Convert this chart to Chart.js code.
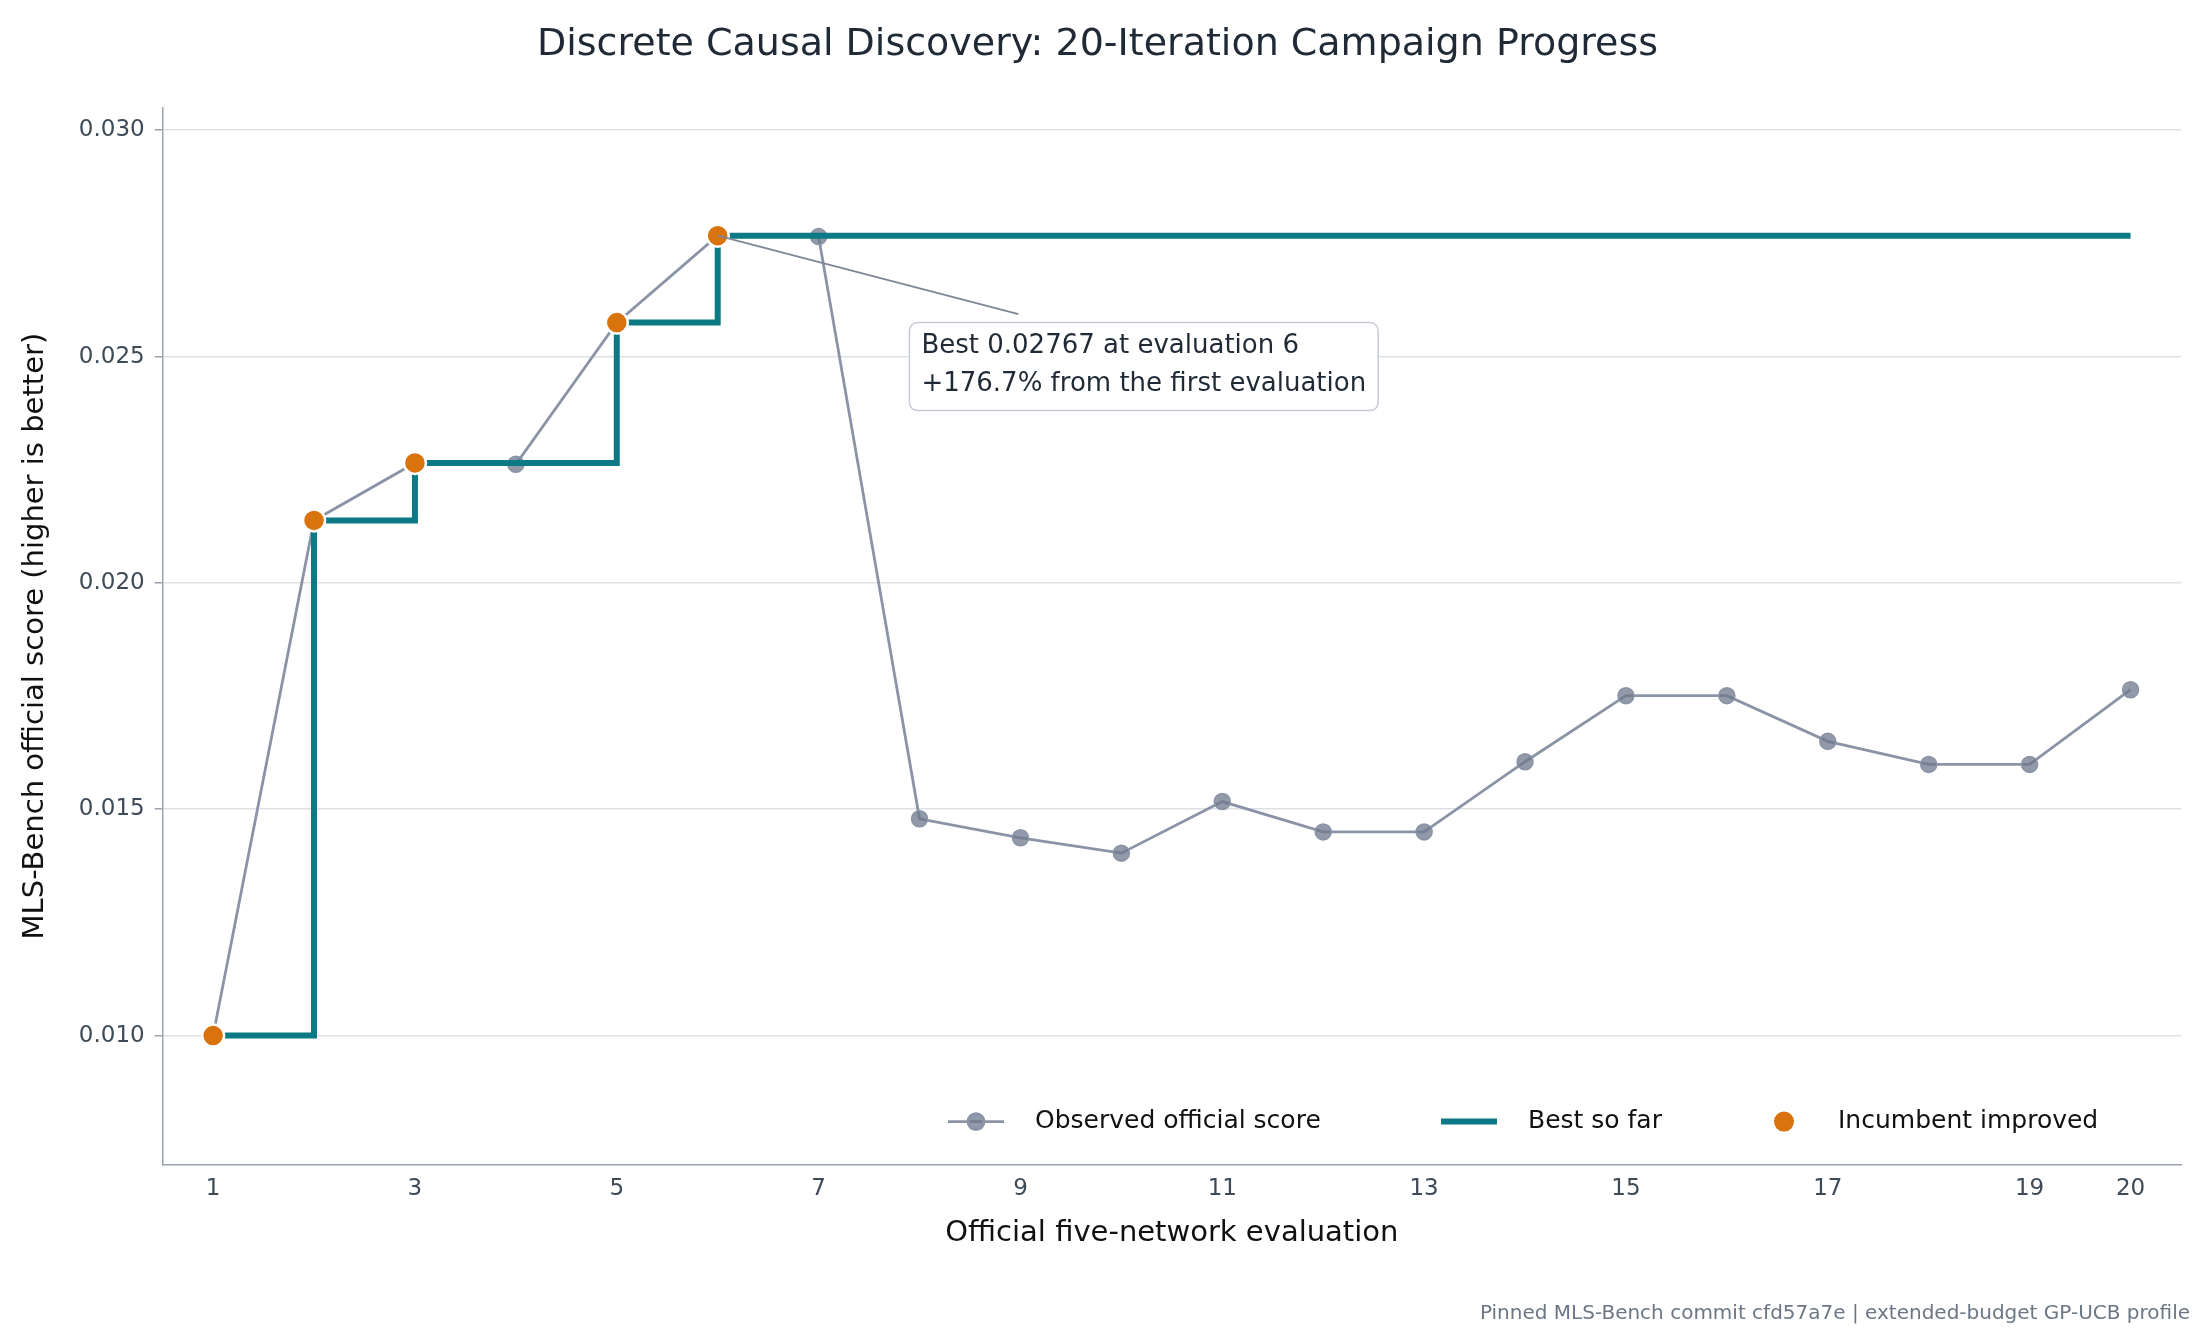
<!DOCTYPE html>
<html><head><meta charset="utf-8">
<script src="https://cdn.jsdelivr.net/npm/chart.js@4"></script>
<style>html,body{margin:0;padding:0;background:#fff}#w{width:2195px;height:1341px;position:relative}</style>
</head><body><div id="w"><canvas id="c"></canvas></div>
<script>
const evaluations = [1,2,3,4,5,6,7,8,9,10,11,12,13,14,15,16,17,18,19,20];
const observedScores = [0.0100,0.02138,0.02265,0.02262,0.02575,0.02767,0.02765,0.01479,0.01437,0.01403,0.01517,0.0145,0.0145,0.01605,0.01751,0.01751,0.0165,0.01599,0.01599,0.01764];
const xTickValues = [1,3,5,7,9,11,13,15,17,19,20];
const yTickValues = [0.010,0.015,0.020,0.025,0.030];
const annotationLines = ["Best 0.02767 at evaluation 6","+176.7% from the first evaluation"];

const bestSoFar = []; let b=-Infinity;
const incumbent = [];
observedScores.forEach((v,i)=>{ if(v>b){b=v; incumbent.push({x:evaluations[i],y:v});} bestSoFar.push({x:evaluations[i],y:b}); });
const observed = observedScores.map((v,i)=>({x:evaluations[i],y:v}));
const FONT = "'DejaVu Sans', sans-serif";

const extras = {
  id:'extras',
  afterDatasetsDraw(chart){
    const ctx=chart.ctx, xs=chart.scales.x, ys=chart.scales.y;
    const bi = observedScores.indexOf(Math.max(...observedScores));
    const px=xs.getPixelForValue(evaluations[bi]), py=ys.getPixelForValue(observedScores[bi]);
    const ex=xs.getPixelForValue(8.98), ey=ys.getPixelForValue(0.02594);
    ctx.save();
    ctx.strokeStyle='#7d8796'; ctx.lineWidth=1.8;
    ctx.beginPath(); ctx.moveTo(px,py); ctx.lineTo(ex,ey); ctx.stroke();
    const bx=xs.getPixelForValue(7.9), by=ys.getPixelForValue(0.02575);
    ctx.font='26px '+FONT;
    const w=Math.max(...annotationLines.map(t=>ctx.measureText(t).width))+24, h=88;
    ctx.beginPath(); ctx.roundRect(bx,by,w,h,8); ctx.fillStyle='#fff'; ctx.fill();
    ctx.strokeStyle='#c5cbd3'; ctx.lineWidth=1.5; ctx.stroke();
    ctx.fillStyle='#1f2a36'; ctx.textBaseline='middle';
    annotationLines.forEach((t,i)=>ctx.fillText(t,bx+12,by+24+i*38));
    const ly=ys.getPixelForValue(0.0081);
    ctx.font='25px '+FONT;
    let x0=948;
    ctx.strokeStyle='#8a94a6'; ctx.lineWidth=2.8; ctx.beginPath(); ctx.moveTo(x0,ly); ctx.lineTo(x0+56,ly); ctx.stroke();
    ctx.beginPath(); ctx.arc(x0+28,ly,8,0,7); ctx.fillStyle='rgba(110,120,140,0.75)'; ctx.fill(); ctx.strokeStyle='#8a94a6';ctx.stroke();
    ctx.fillStyle='#111'; ctx.fillText('Observed official score',x0+87,ly);
    x0=1441;
    ctx.strokeStyle='#0b7a84'; ctx.lineWidth=6; ctx.beginPath(); ctx.moveTo(x0,ly); ctx.lineTo(x0+56,ly); ctx.stroke();
    ctx.fillText('Best so far',x0+87,ly);
    x0=1756;
    ctx.beginPath(); ctx.arc(x0+28,ly,10,0,7); ctx.fillStyle='#d9730d'; ctx.fill();
    ctx.fillStyle='#111'; ctx.fillText('Incumbent improved',x0+82,ly);
    ctx.font='20px '+FONT; ctx.fillStyle='#6b7785'; ctx.textAlign='right';
    ctx.fillText('Pinned MLS-Bench commit cfd57a7e | extended-budget GP-UCB profile',2190,1314);
    ctx.restore();
  }
};

new Chart(document.getElementById('c'),{
  type:'line',
  data:{datasets:[
    {label:'Observed official score',data:observed,borderColor:'#8a94a6',borderWidth:2.8,pointRadius:8,pointBackgroundColor:'rgba(110,120,140,0.75)',pointBorderColor:'#8a94a6',pointBorderWidth:1.5,order:3},
    {label:'Best so far',data:bestSoFar,borderColor:'#0b7a84',borderWidth:6,stepped:true,pointRadius:0,order:2},
    {label:'Incumbent improved',data:incumbent,showLine:false,pointRadius:11,pointBackgroundColor:'#d9730d',pointBorderColor:'#fff',pointBorderWidth:2.5,order:1}
  ]},
  plugins:[extras],
  options:{
    responsive:true,maintainAspectRatio:false,animation:false,devicePixelRatio:1,
    layout:{padding:{top:6,right:14,bottom:86,left:14}},
    plugins:{legend:{display:false},tooltip:{enabled:false},
      title:{display:true,text:'Discrete Causal Discovery: 20-Iteration Campaign Progress',color:'#1f2a36',font:{family:FONT,size:38,weight:'normal'},padding:{top:16,bottom:40}}},
    scales:{
      x:{type:'linear',min:0.5,max:20.5,
        afterBuildTicks:a=>{a.ticks=xTickValues.map(v=>({value:v}));},
        grid:{display:false,drawTicks:true,tickLength:8,tickColor:'#9aa3ad'},border:{color:'#9aa3ad',width:1.5},
        ticks:{color:'#3d4a57',font:{family:FONT,size:23},autoSkip:false,maxRotation:0,callback:v=>v},
        title:{display:true,text:'Official five-network evaluation',color:'#111',font:{family:FONT,size:29},padding:{top:10}}},
      y:{min:0.00715,max:0.0305,
        afterBuildTicks:a=>{a.ticks=yTickValues.map(v=>({value:v}));},
        grid:{color:'#dde1e5',lineWidth:1.5,tickLength:8,tickColor:'#9aa3ad'},border:{color:'#9aa3ad',width:1.5},
        ticks:{color:'#3d4a57',font:{family:FONT,size:23},callback:v=>v.toFixed(3),padding:10},
        title:{display:true,text:'MLS-Bench official score (higher is better)',color:'#111',font:{family:FONT,size:29},padding:{bottom:16}}}
    }
  }
});
</script></body></html>
